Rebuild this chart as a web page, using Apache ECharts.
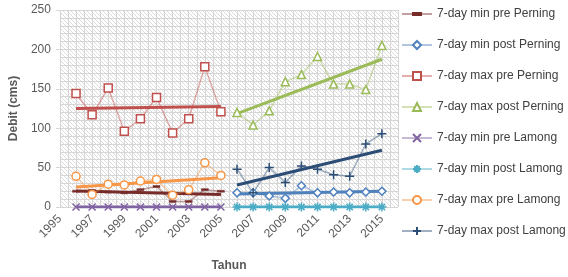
<!DOCTYPE html>
<html>
<head>
<meta charset="utf-8">
<script src="https://cdn.jsdelivr.net/npm/echarts@6/dist/echarts.min.js"></script>
<style>
  html, body { margin: 0; padding: 0; background: #fff; }
  #chart { width: 568px; height: 277px; }
</style>
</head>
<body>
<div id="chart"></div>
<script>
// years for the two periods
const yearsPre = [1996, 1997, 1998, 1999, 2000, 2001, 2002, 2003, 2004, 2005];
const yearsPost = [2006, 2007, 2008, 2009, 2010, 2011, 2012, 2013, 2014, 2015];

// debit values (cms)
const minPrePerning = [20, 21, 19, 18, 22, 26, 7, 7, 22, 20];
const minPostPerning = [18, 18, 14, 11, 27, 18, 19, 18, 19, 20];
const maxPrePerning = [144, 117, 151, 96, 112, 139, 94, 112, 178, 121];
const maxPostPerning = [120, 104, 122, 159, 168, 191, 156, 156, 149, 205];
const minPreLamong = [0, 0, 0, 0, 0, 0, 0, 0, 0, 0];
const minPostLamong = [0, 0, 0, 0, 0, 0, 0, 0, 0, 0];
const maxPreLamong = [39, 16, 29, 28, 33, 35, 15, 22, 56, 40];
const maxPostLamong = [48, 18, 50, 31, 52, 48, 41, 39, 80, 93];

const yTicks = [0, 50, 100, 150, 200, 250];
const xLabelYears = [1995, 1997, 1999, 2001, 2003, 2005, 2007, 2009, 2011, 2013, 2015];

const DASH_PATH = 'path://M0,0M10,10M0,3.6L10,3.6L10,6.4L0,6.4Z';
const X_PATH = 'path://M0,0L10,10M10,0L0,10';
const STAR_PATH = 'path://M5,0L5,10M0,5L10,5M1.5,1.5L8.5,8.5M8.5,1.5L1.5,8.5';
const PLUS_PATH = 'path://M5,0L5,10M0,5L10,5';

const seriesDefs = [
  { name: '7-day min pre Perning', years: yearsPre, values: minPrePerning, color: '#772C2A', symbol: DASH_PATH, size: 7, filled: true },
  { name: '7-day min post Perning', years: yearsPost, values: minPostPerning, color: '#4F81BD', symbol: 'diamond', size: 8 },
  { name: '7-day max pre Perning', years: yearsPre, values: maxPrePerning, color: '#C0504D', symbol: 'rect', size: 8 },
  { name: '7-day max post Perning', years: yearsPost, values: maxPostPerning, color: '#9BBB59', symbol: 'triangle', size: 8 },
  { name: '7-day min pre Lamong', years: yearsPre, values: minPreLamong, color: '#8064A2', symbol: X_PATH, size: 7 },
  { name: '7-day min post Lamong', years: yearsPost, values: minPostLamong, color: '#4BACC6', symbol: STAR_PATH, size: 9 },
  { name: '7-day max pre Lamong', years: yearsPre, values: maxPreLamong, color: '#F79646', symbol: 'circle', size: 8 },
  { name: '7-day max post Lamong', years: yearsPost, values: maxPostLamong, color: '#2C4D75', symbol: PLUS_PATH, size: 9 }
];

// linear trend like Excel's trendline
function trend(xs, ys) {
  const n = xs.length;
  const mx = xs.reduce((a, b) => a + b, 0) / n;
  const my = ys.reduce((a, b) => a + b, 0) / n;
  let sxy = 0, sxx = 0;
  for (let i = 0; i < n; i++) {
    sxy += (xs[i] - mx) * (ys[i] - my);
    sxx += (xs[i] - mx) * (xs[i] - mx);
  }
  const b = sxx ? sxy / sxx : 0;
  const a = my - b * mx;
  return [[xs[0], a + b * xs[0]], [xs[n - 1], a + b * xs[n - 1]]];
}

// hatched plot background
const hatch = document.createElement('canvas');
hatch.width = 4;
hatch.height = 4;
const hctx = hatch.getContext('2d');
hctx.fillStyle = '#ffffff';
hctx.fillRect(0, 0, 4, 4);
hctx.fillStyle = '#dcdcdc';
for (let i = 0; i < 4; i++) hctx.fillRect(i, i, 1, 1);

const series = [];
seriesDefs.forEach(d => {
  series.push({
    name: d.name,
    type: 'line',
    data: d.years.map((y, i) => [y, d.values[i]]),
    symbol: d.symbol,
    symbolSize: d.size,
    showAllSymbol: true,
    lineStyle: { color: d.color, width: 1.5, opacity: 0.45 },
    itemStyle: {
      color: d.filled ? d.color : '#ffffff',
      borderColor: d.color,
      borderWidth: d.filled ? 0.5 : 1.5
    },
    emphasis: { disabled: true },
    z: 3
  });
});
seriesDefs.forEach(d => {
  series.push({
    name: d.name + ' trend',
    type: 'line',
    data: trend(d.years, d.values),
    symbol: 'none',
    lineStyle: { color: d.color, width: 3 },
    emphasis: { disabled: true },
    z: 2
  });
});

const chart = echarts.init(document.getElementById('chart'));
chart.setOption({
  animation: false,
  textStyle: { fontFamily: 'Liberation Sans, Arial, sans-serif' },
  grid: {
    left: 56, right: 170, top: 10, bottom: 62,
    show: true,
    backgroundColor: { image: hatch, repeat: 'repeat' },
    borderWidth: 0
  },
  legend: {
    data: seriesDefs.map(d => d.name),
    orient: 'vertical',
    left: 401,
    top: 8,
    padding: 0,
    itemWidth: 30,
    itemHeight: 10,
    itemGap: 19,
    textStyle: { fontSize: 12, color: '#404040' }
  },
  xAxis: {
    type: 'value',
    min: 1995,
    max: 2016,
    interval: 1,
    name: 'Tahun',
    nameLocation: 'middle',
    nameGap: 53,
    nameTextStyle: { fontSize: 12, fontWeight: 'bold', color: '#595959' },
    axisLine: { show: false },
    axisTick: { show: false },
    axisLabel: {
      rotate: 45,
      margin: 10,
      fontSize: 12,
      color: '#595959',
      formatter: v => (xLabelYears.indexOf(v) >= 0 ? String(v) : '')
    },
    splitLine: { show: true, lineStyle: { color: '#d6d6d6', width: 1 } },
    minorTick: { show: false, splitNumber: 2 },
    minorSplitLine: { show: true, lineStyle: { color: '#d6d6d6', width: 1 } }
  },
  yAxis: {
    type: 'value',
    min: yTicks[0],
    max: yTicks[yTicks.length - 1],
    interval: 50,
    name: 'Debit (cms)',
    nameLocation: 'middle',
    nameGap: 38,
    nameTextStyle: { fontSize: 12, fontWeight: 'bold', color: '#595959' },
    axisLine: { show: false },
    axisTick: { show: true, length: 4, lineStyle: { color: '#d6d6d6' } },
    axisLabel: { fontSize: 12, color: '#595959', margin: 9 },
    splitLine: { show: true, lineStyle: { color: '#d6d6d6', width: 1 } },
    minorTick: { show: false, splitNumber: 5 },
    minorSplitLine: { show: true, lineStyle: { color: '#d6d6d6', width: 1 } }
  },
  series: series
});
</script>
</body>
</html>
